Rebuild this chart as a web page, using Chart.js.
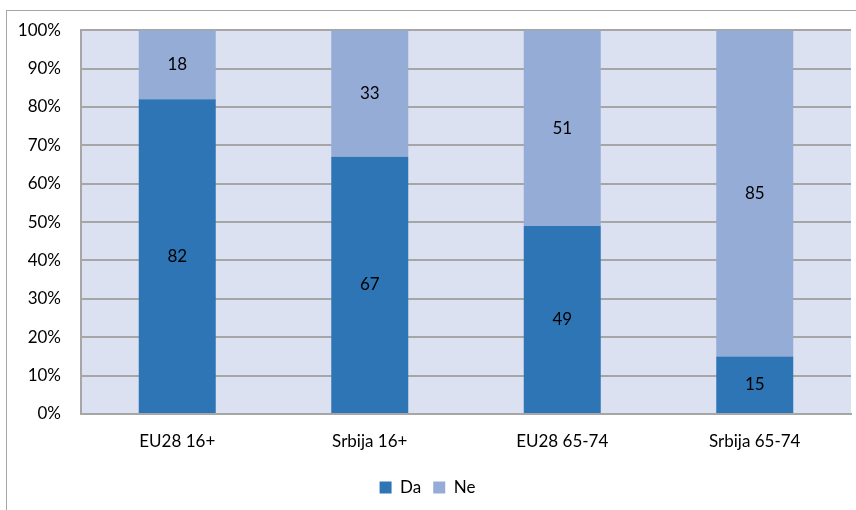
<!DOCTYPE html>
<html>
<head>
<meta charset="utf-8">
<script src="https://cdn.jsdelivr.net/npm/chart.js@4"></script>
<style>
  html, body { margin: 0; padding: 0; background: #ffffff; }
  #wrap { position: relative; width: 856px; height: 510px; }
</style>
</head>
<body>
<div id="wrap"><canvas id="chart" width="856" height="510"></canvas></div>
<script>
// Podaci
const categories = ['EU28 16+', 'Srbija 16+', 'EU28 65-74', 'Srbija 65-74'];
const daValues = [82, 67, 49, 15];
const neValues = [18, 33, 51, 85];

const FONT = 'Lato, Carlito, "Open Sans", sans-serif';

// Pozadina oblasti grafika i okvir
const backgroundPlugin = {
  id: 'plotBackground',
  beforeDraw(chart) {
    const { ctx, chartArea } = chart;
    ctx.save();
    ctx.strokeStyle = '#a6a6a6';
    ctx.lineWidth = 1;
    ctx.strokeRect(6.5, 10.5, 900, 600);
    ctx.fillStyle = '#dbe1f1';
    ctx.fillRect(chartArea.left, chartArea.top, chartArea.right - chartArea.left, chartArea.bottom - chartArea.top);
    ctx.restore();
  }
};

// Vrednosti u sredini stubića
const labelPlugin = {
  id: 'barLabels',
  afterDatasetsDraw(chart) {
    const { ctx } = chart;
    ctx.save();
    ctx.font = '17px ' + FONT;
    ctx.fillStyle = '#000000';
    ctx.textAlign = 'center';
    ctx.textBaseline = 'middle';
    chart.data.datasets.forEach((ds, i) => {
      chart.getDatasetMeta(i).data.forEach((bar, j) => {
        const y = (bar.y + bar.base) / 2;
        ctx.fillText(ds.data[j], bar.x, y);
      });
    });
    ctx.restore();
  }
};

new Chart(document.getElementById('chart').getContext('2d'), {
  type: 'bar',
  data: {
    labels: categories,
    datasets: [
      { label: 'Da', data: daValues, backgroundColor: '#2e75b6', categoryPercentage: 0.8, barPercentage: 0.5 },
      { label: 'Ne', data: neValues, backgroundColor: '#95acd6', categoryPercentage: 0.8, barPercentage: 0.5 },
    ],
  },
  options: {
    responsive: false,
    animation: false,
    layout: { padding: { top: 30, right: 5, left: 4, bottom: 4 } },
    plugins: {
      legend: {
        position: 'bottom',
        labels: {
          font: { family: FONT, size: 17 },
          color: '#000000',
          boxWidth: 12,
          boxHeight: 12,
          padding: 12,
        },
      },
      tooltip: { enabled: false },
    },
    scales: {
      x: {
        stacked: true,
        grid: { display: false },
        border: { color: '#a6a6a6', width: 2 },
        ticks: { font: { family: FONT, size: 17 }, color: '#000000', padding: 9 },
        afterFit(scale) { scale.height = 53; },
      },
      y: {
        stacked: true,
        min: 0,
        max: 100,
        grid: { color: '#a6a6a6', lineWidth: 2, drawTicks: false },
        border: { color: '#a6a6a6', width: 2 },
        ticks: {
          stepSize: 10,
          font: { family: FONT, size: 17 },
          color: '#000000',
          padding: 20,
          callback: v => v + '%',
        },
        afterFit(scale) { scale.width = 77; },
      },
    },
  },
  plugins: [backgroundPlugin, labelPlugin],
});
</script>
</body>
</html>
